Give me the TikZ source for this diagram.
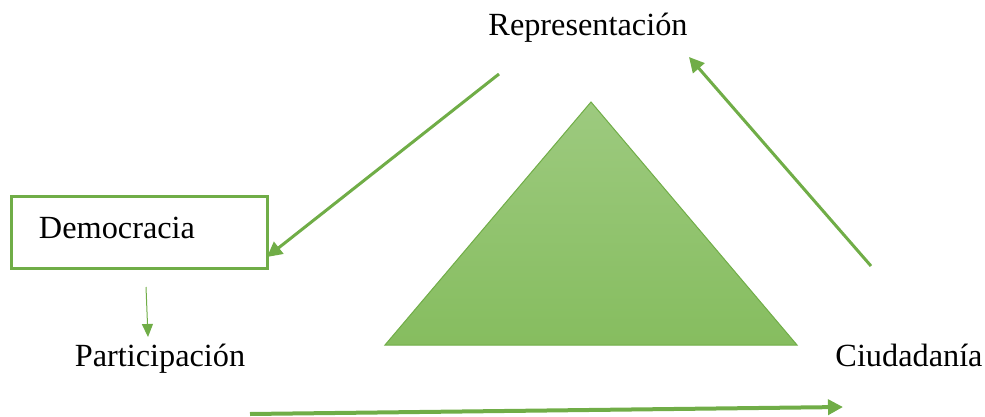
\documentclass[tikz,border=0pt]{standalone}
\usepackage{fontspec}
\setmainfont{Liberation Serif}
\usetikzlibrary{arrows.meta}
\definecolor{gr}{HTML}{70AD47}
\definecolor{gtop}{HTML}{9DCA7F}
\definecolor{gbot}{HTML}{86BD5F}
\tikzset{
  lbl/.style={font=\fontsize{32.3}{38}\selectfont, inner sep=0pt, anchor=base},
  conn/.style={draw=gr, line width=3pt, -{Triangle[length=15pt,width=15pt]}},
  thinconn/.style={draw=gr, line width=1pt, -{Triangle[length=13pt,width=11pt]}},
}
\begin{document}
\begin{tikzpicture}[x=1pt,y=-1pt]
\useasboundingbox (0,0) rectangle (985,417);
% triangle
\path[top color=gtop, bottom color=gbot, draw=gr, line width=1pt] (591,102) -- (797,345) -- (385,345) -- cycle;
% box
\node[draw=gr, line width=3pt, minimum width=256pt, minimum height=72pt, inner sep=0pt] (box) at (139,232) {};
\node[lbl] (dem) at (117,238) {Democracia};
\node[lbl] (rep) at (588,36) {Representación};
\node[lbl] (par) at (160,366) {Participación};
\node[lbl] (ciu) at (909,366) {Ciudadanía};
% connector endpoints
\coordinate (a1s) at (499,74);
\coordinate (a1e) at (267,257);
\coordinate (a2s) at (871,266);
\coordinate (a2e) at (689,57);
\coordinate (a3s) at (146,287);
\coordinate (a3e) at (148,337);
\coordinate (a4s) at (250,414);
\coordinate (a4e) at (843,407);
\draw[conn] (a1s) -- (a1e);
\draw[conn] (a2s) -- (a2e);
\draw[thinconn] (a3s) -- (a3e);
\draw[conn, line width=4pt] (a4s) -- (a4e);
\end{tikzpicture}
\end{document}
